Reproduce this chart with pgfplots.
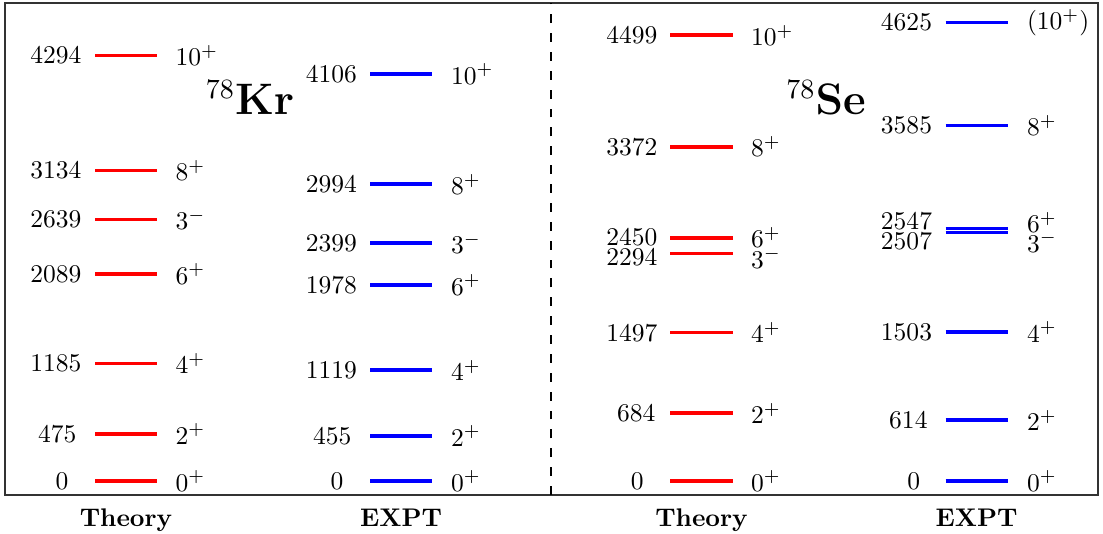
\documentclass[border=0pt]{standalone}
\usepackage{pgfplots}
\pgfplotsset{compat=1.18}
\definecolor{levred}{RGB}{255,0,0}
\definecolor{levblue}{RGB}{0,0,255}
% #1 x1, #2 x2, #3 energy, #4 colour, #5 energy label right edge, #6 energy label y, #7 spin, #8 spin label x, #9 spin label y
\newcommand\lev[9]{%
  \addplot[#4, line width=1.4pt, forget plot] coordinates {(#1,#3) (#2,#3)};
  \node[anchor=east, inner sep=0pt] at (axis cs:#5,#6) {#3};
  \node[anchor=west, inner sep=0pt] at (axis cs:#8,#9) {#7};
}
\begin{document}
\begin{tikzpicture}
\begin{axis}[
  scale only axis, width=428.46pt, height=192.86pt,
  xmin=5, xmax=1098, ymin=-141, ymax=4823,
  axis line style={draw=black!80, line width=0.9pt},
  xtick={126,401,701.5,976.5},
  xticklabels={\textbf{Theory},\textbf{EXPT},\textbf{Theory},\textbf{EXPT}},
  major tick length=0pt, ytick=\empty,
  xticklabel style={anchor=base, yshift=-12.5pt, inner sep=0pt},
  clip=false,
]
% dashed separator
\addplot[black, line width=0.6pt, dash pattern=on 3.5pt off 3.9pt, forget plot] coordinates {(551,-141) (551,4823)};
% 78Kr theory
\lev{95}{157}{0}{levred}{69}{0}{$0^{+}$}{175}{0}
\lev{95}{157}{475}{levred}{77}{475}{$2^{+}$}{175}{475}
\lev{95}{157}{1185}{levred}{82}{1185}{$4^{+}$}{175}{1185}
\lev{95}{157}{2089}{levred}{82}{2089}{$6^{+}$}{175}{2089}
\lev{95}{157}{2639}{levred}{82}{2639}{$3^{-}$}{175}{2639}
\lev{95}{157}{3134}{levred}{82}{3134}{$8^{+}$}{175}{3134}
\lev{95}{157}{4294}{levred}{82}{4294}{$10^{+}$}{175}{4294}
% 78Kr expt
\lev{370}{432}{0}{levblue}{344}{0}{$0^{+}$}{450.5}{0}
\lev{370}{432}{455}{levblue}{352}{455}{$2^{+}$}{450.5}{455}
\lev{370}{432}{1119}{levblue}{357.5}{1119}{$4^{+}$}{450.5}{1119}
\lev{370}{432}{1978}{levblue}{357.5}{1978}{$6^{+}$}{450.5}{1978}
\lev{370}{432}{2399}{levblue}{357.5}{2399}{$3^{-}$}{450.5}{2399}
\lev{370}{432}{2994}{levblue}{357.5}{2994}{$8^{+}$}{450.5}{2994}
\lev{370}{432}{4106}{levblue}{357.5}{4106}{$10^{+}$}{450.5}{4106}
% 78Se theory
\lev{670}{733}{0}{levred}{644}{0}{$0^{+}$}{750.5}{0}
\lev{670}{733}{684}{levred}{656}{684}{$2^{+}$}{750.5}{684}
\lev{670}{733}{1497}{levred}{658}{1497}{$4^{+}$}{750.5}{1497}
\lev{670}{733}{2294}{levred}{658}{2262}{$3^{-}$}{750.5}{2250}
\lev{670}{733}{2450}{levred}{658}{2462}{$6^{+}$}{750.5}{2455}
\lev{670}{733}{3372}{levred}{658}{3372}{$8^{+}$}{750.5}{3372}
\lev{670}{733}{4499}{levred}{658}{4499}{$10^{+}$}{750.5}{4499}
% 78Se expt
\lev{945.5}{1008}{0}{levblue}{920.5}{0}{$0^{+}$}{1026.5}{0}
\lev{945.5}{1008}{614}{levblue}{928}{614}{$2^{+}$}{1026.5}{614}
\lev{945.5}{1008}{1503}{levblue}{932.5}{1503}{$4^{+}$}{1026.5}{1503}
\lev{945.5}{1008}{2507}{levblue}{932.5}{2418}{$3^{-}$}{1026.5}{2412}
\lev{945.5}{1008}{2547}{levblue}{932.5}{2618}{$6^{+}$}{1026.5}{2610}
\lev{945.5}{1008}{3585}{levblue}{932.5}{3585}{$8^{+}$}{1026.5}{3585}
\lev{945.5}{1008}{4625}{levblue}{932.5}{4625}{$(10^{+})$}{1026.5}{4625}
% nucleus labels
\node at (axis cs:250,3865) {\fontsize{16.3}{19}\selectfont $^{78}\mathbf{Kr}$};
\node at (axis cs:826,3865) {\fontsize{16.3}{19}\selectfont $^{78}\mathbf{Se}$};
\end{axis}
\pgfresetboundingbox
\path ([xshift=-1.96pt,yshift=-14.9pt]current axis.south west) rectangle ([xshift=1.96pt,yshift=1.18pt]current axis.north east);
\end{tikzpicture}
\end{document}
